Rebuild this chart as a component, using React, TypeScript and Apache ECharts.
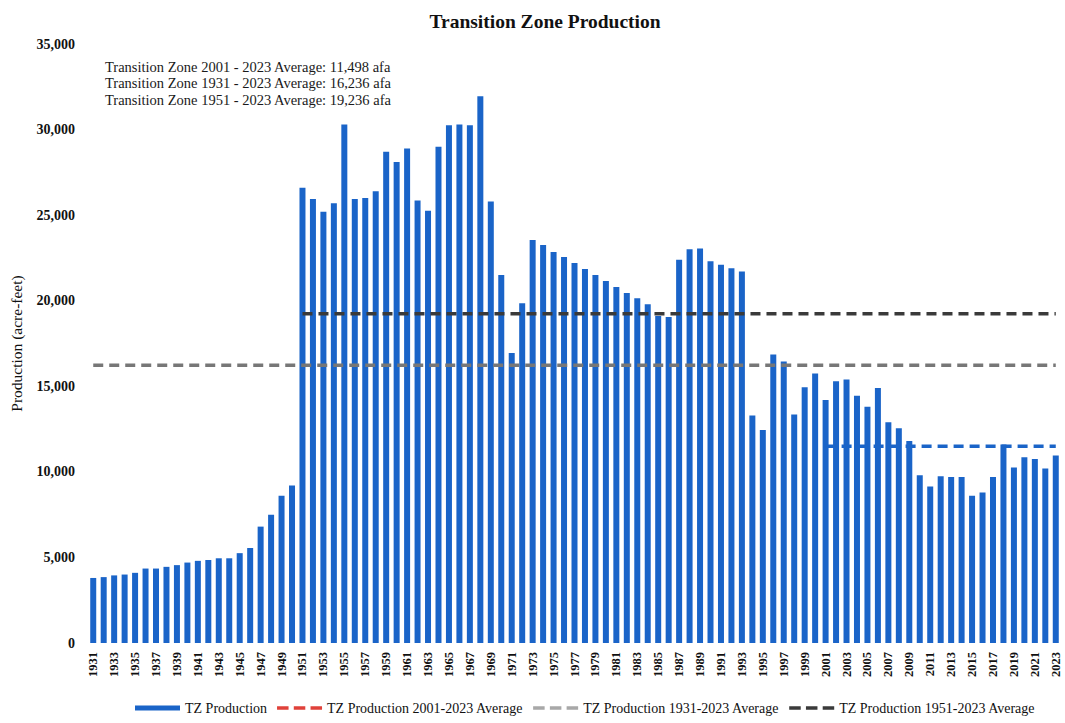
import React, { useEffect, useRef } from "react";
import * as echarts from "echarts";

const START_YEAR = 1931;
const END_YEAR = 2023;
const years: string[] = [];
for (let y = START_YEAR; y <= END_YEAR; y++) years.push(String(y));

const production: number[] = [
  3800, 3850, 3950, 4000, 4100, 4350, 4350, 4450, 4550, 4700,
  4800, 4850, 4950, 4950, 5250, 5550, 6800, 7500, 8600, 9200,
  26600, 25950, 25200, 25700, 30300, 25950, 26000, 26400, 28700, 28100,
  28900, 25850, 25250, 29000, 30250, 30300, 30250, 31950, 25800, 21500,
  16950, 19850, 23550, 23250, 22850, 22550, 22200, 21850, 21500, 21150,
  20800, 20450, 20150, 19800, 19100, 19050, 22400, 23000, 23050, 22300,
  22100, 21900, 21700, 13300, 12450, 16850, 16450, 13350, 14950, 15750,
  14200, 15300, 15400, 14450, 13800, 14900, 12900, 12550, 11800, 9800,
  9150, 9750, 9700, 9700, 8600, 8800, 9700, 11600, 10250, 10850,
  10750, 10200, 10950,
];

const averages = [
  { name: "TZ Production 2001-2023 Average", from: 2001, value: 11498, color: "#1a64c8", legendColor: "#e0413a" },
  { name: "TZ Production 1931-2023 Average", from: 1931, value: 16236, color: "#777777", legendColor: "#a8a8a8" },
  { name: "TZ Production 1951-2023 Average", from: 1951, value: 19236, color: "#3a3a3a", legendColor: "#3a3a3a" },
];

const annotationLines = [
  "Transition Zone 2001 - 2023 Average: 11,498 afa",
  "Transition Zone 1931 - 2023 Average: 16,236 afa",
  "Transition Zone 1951 - 2023 Average: 19,236 afa",
];

const FONT = "'Liberation Serif', 'Times New Roman', serif";
const BAR_COLOR = "#1a64c8";
const DASH_ICON = "path://M0,0 L11,0 L11,3.5 L0,3.5 Z M16,0 L27,0 L27,3.5 L16,3.5 Z M32,0 L43,0 L43,3.5 L32,3.5 Z";
const BAR_ICON = "path://M0,0 L45,0 L45,5 L0,5 Z";

export default function App() {
  const ref = useRef<HTMLDivElement>(null);
  useEffect(() => {
    document.body.style.margin = "0";
    if (!ref.current) return;
    const chart = echarts.init(ref.current, undefined, { renderer: "svg" });
    const avgSeries = averages.map((a) => ({
      name: a.name,
      type: "line",
      symbol: "none",
      z: 5,
      data: years.map((y) => (Number(y) >= a.from ? a.value : null)),
      lineStyle: { color: a.color, width: 3.5, type: [10, 6] },
      itemStyle: { color: a.color },
    }));
    chart.setOption({
      animation: false,
      textStyle: { fontFamily: FONT },
      title: {
        text: "Transition Zone Production",
        left: 540,
        textAlign: "center",
        top: 6,
        textStyle: { fontFamily: FONT, fontSize: 19.5, fontWeight: "bold", color: "#111" },
      },
      grid: { left: 86, right: 4, top: 44, bottom: 80, containLabel: false },
      legend: {
        bottom: 3,
        left: 130,
        itemGap: 10,
        itemWidth: 45,
        itemHeight: 14,
        textStyle: { fontFamily: FONT, fontSize: 14, color: "#111" },
        data: [
          { name: "TZ Production", icon: BAR_ICON, itemStyle: { color: BAR_COLOR } },
          ...averages.map((a) => ({
            name: a.name,
            icon: DASH_ICON,
            itemStyle: { color: a.legendColor },
          })),
        ],
      },
      graphic: [
        {
          type: "group",
          left: 105,
          top: 59,
          children: annotationLines.map((t, i) => ({
            type: "text",
            x: 0,
            y: i * 16.5,
            style: { text: t, fontFamily: FONT, fontSize: 14.5, fill: "#1a1a1a" },
          })),
        },
      ],
      xAxis: {
        type: "category",
        data: years,
        axisLine: { show: false },
        axisTick: { show: false },
        axisLabel: {
          interval: 1,
          rotate: 90,
          margin: 9,
          fontFamily: FONT,
          fontSize: 12.5,
          fontWeight: "bold",
          color: "#111",
        },
      },
      yAxis: {
        type: "value",
        min: 0,
        max: 35000,
        interval: 5000,
        name: "Production (acre-feet)",
        nameLocation: "middle",
        nameGap: 64,
        nameTextStyle: { fontFamily: FONT, fontSize: 15.5, color: "#111" },
        splitLine: { show: false },
        axisLine: { show: false },
        axisTick: { show: false },
        axisLabel: {
          margin: 13,
          fontFamily: FONT,
          fontSize: 14,
          fontWeight: "bold",
          color: "#111",
          formatter: (v: number) => v.toLocaleString("en-US"),
        },
      },
      series: [
        {
          name: "TZ Production",
          type: "bar",
          data: production,
          barWidth: 6,
          itemStyle: { color: BAR_COLOR },
          z: 2,
        },
        ...avgSeries,
      ],
    });
    return () => chart.dispose();
  }, []);
  return <div ref={ref} style={{ width: 1065, height: 723 }} />;
}
